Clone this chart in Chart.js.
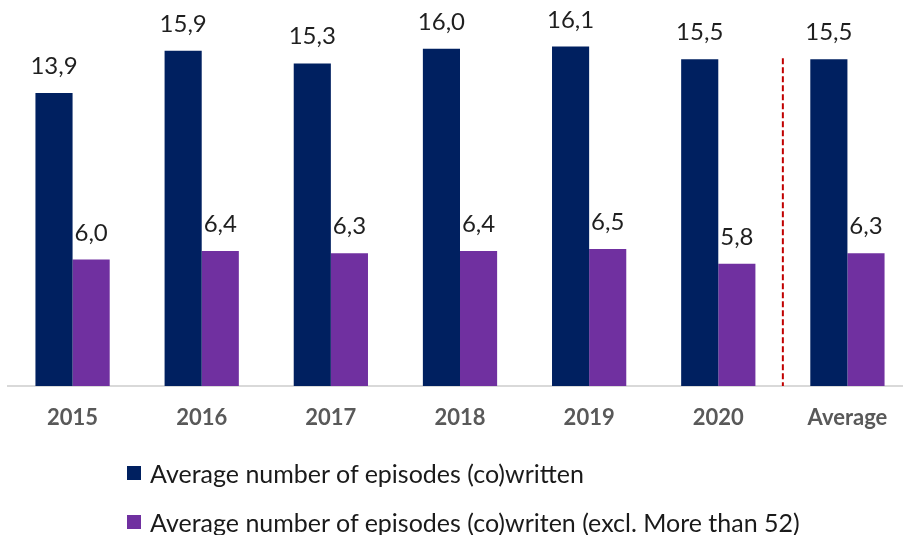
<!DOCTYPE html>
<html>
<head>
<meta charset="utf-8">
<script src="https://cdn.jsdelivr.net/npm/chart.js@4.4.1/dist/chart.umd.min.js"></script>
<style>
  html, body { margin: 0; padding: 0; background: #fff; overflow: hidden; }
  #wrap { position: relative; width: 912px; height: 535px; }
  #legend { position: absolute; left: 127px; top: 458px; font-family: Lato, sans-serif; font-size: 25px; color: #1a1a1a; }
  .item { display: flex; align-items: center; height: 30px; margin-bottom: 19px; white-space: nowrap; }
  .sw { width: 14px; height: 14px; margin-right: 9px; flex: none; }
</style>
</head>
<body>
<div id="wrap">
  <canvas id="c" width="912" height="535"></canvas>
  <div id="legend"></div>
</div>
<script>
const categories = ['2015', '2016', '2017', '2018', '2019', '2020', 'Average'];
const seriesWritten = [13.9, 15.9, 15.3, 16.0, 16.1, 15.5, 15.5];
const seriesExcl = [6.0, 6.4, 6.3, 6.4, 6.5, 5.8, 6.3];
const seriesLabels = ['Average number of episodes (co)written', 'Average number of episodes (co)writen (excl. More than 52)'];
const seriesColors = ['#002060', '#7030A0'];

const fmt = v => v.toFixed(1).replace('.', ',');

const valueLabels = {
  id: 'valueLabels',
  afterDatasetsDraw(chart) {
    const ctx = chart.ctx;
    ctx.save();
    ctx.font = '24px Lato, sans-serif';
    ctx.fillStyle = '#1f1f1f';
    ctx.textAlign = 'center';
    ctx.textBaseline = 'alphabetic';
    chart.data.datasets.forEach((ds, i) => {
      chart.getDatasetMeta(i).data.forEach((bar, j) => {
        ctx.fillText(fmt(ds.data[j]), bar.x, bar.y - 19);
      });
    });
    ctx.restore();
  }
};

const divider = {
  id: 'divider',
  afterDatasetsDraw(chart) {
    const x = chart.scales.x, y = chart.scales.y;
    const px = (x.getPixelForValue(5) + x.getPixelForValue(6)) / 2;
    const ctx = chart.ctx;
    ctx.save();
    ctx.strokeStyle = '#C00000';
    ctx.lineWidth = 2;
    ctx.setLineDash([6, 3]);
    ctx.beginPath();
    ctx.moveTo(px, y.getPixelForValue(15.55));
    ctx.lineTo(px, y.getPixelForValue(0));
    ctx.stroke();
    ctx.restore();
  }
};

new Chart(document.getElementById('c'), {
  type: 'bar',
  data: {
    labels: categories,
    datasets: [
      { label: seriesLabels[0], data: seriesWritten, backgroundColor: seriesColors[0] },
      { label: seriesLabels[1], data: seriesExcl, backgroundColor: seriesColors[1] }
    ]
  },
  options: {
    responsive: false,
    animation: false,
    events: [],
    layout: { padding: { left: 8, top: 6.5, right: 0, bottom: 0 } },
    datasets: { bar: { categoryPercentage: 0.575, barPercentage: 1 } },
    plugins: { legend: { display: false }, tooltip: { enabled: false } },
    scales: {
      x: {
        grid: { display: false, drawTicks: false },
        border: { display: true, color: '#d9d9d9', width: 2 },
        ticks: { color: '#595959', font: { family: 'Lato, sans-serif', size: 22, weight: 'bold' }, padding: 19 },
        afterFit(scale) { scale.height = 149; }
      },
      y: { display: false, min: 0, max: 18 }
    }
  },
  plugins: [valueLabels, divider]
});

const legend = document.getElementById('legend');
seriesLabels.forEach((t, i) => {
  const d = document.createElement('div');
  d.className = 'item';
  d.innerHTML = '<span class="sw" style="background:' + seriesColors[i] + '"></span><span>' + t + '</span>';
  legend.appendChild(d);
});
</script>
</body>
</html>
